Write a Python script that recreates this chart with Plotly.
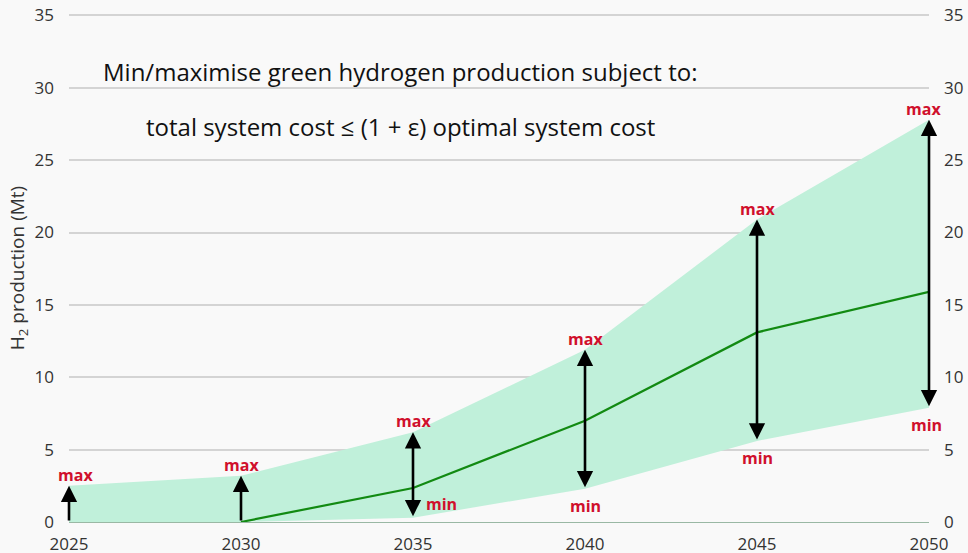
import plotly.graph_objects as go

years = [2025, 2030, 2035, 2040, 2045, 2050]
h2_max = [2.5, 3.2, 6.2, 11.9, 20.9, 27.8]
h2_min = [0.0, 0.0, 0.3, 2.3, 5.6, 7.9]
h2_opt = [None, 0.0, 2.35, 7.0, 13.1, 15.9]
y_ticks = [0, 5, 10, 15, 20, 25, 30, 35]
x_ticks = [2025, 2030, 2035, 2040, 2045, 2050]
title_line1 = "Min/maximise green hydrogen production subject to:"
title_line2 = "total system cost ≤ (1 + ε) optimal system cost"

FONT = "Open Sans"
RED = "#d0102c"
BAND = "#c0f0da"
BG = "#f9f9f9"

fig = go.Figure()
fig.add_trace(go.Scatter(x=years, y=h2_min, mode="lines", line=dict(width=0, color=BAND),
                         showlegend=False, hoverinfo="skip"))
fig.add_trace(go.Scatter(x=years, y=h2_max, mode="lines", line=dict(width=0, color=BAND),
                         fill="tonexty", fillcolor=BAND, showlegend=False, hoverinfo="skip"))
fig.add_trace(go.Scatter(x=years, y=h2_opt, mode="lines", line=dict(width=2.2, color="#128a12"),
                         showlegend=False, connectgaps=False))
fig.add_trace(go.Scatter(x=years, y=h2_max, mode="lines", line=dict(width=0), opacity=0,
                         yaxis="y2", showlegend=False, hoverinfo="skip"))

edge_shift = {2025: 6, 2050: -6}
for yr, lo, hi in zip(years, h2_min, h2_max):
    both = lo > 0
    fig.add_annotation(x=yr, y=hi, ax=yr, ay=lo, xref="x", yref="y", axref="x", ayref="y",
                       showarrow=True, arrowhead=2, startarrowhead=2, arrowsize=1.25, startarrowsize=1.25,
                       arrowwidth=2.6, arrowcolor="black",
                       arrowside="end+start" if both else "end", text="")
    fig.add_annotation(x=yr, y=hi, text="<b>max</b>", showarrow=False, yshift=11,
                       xshift=edge_shift.get(yr, 0),
                       font=dict(family=FONT, size=16, color=RED))
    if both:
        if yr == 2035:
            fig.add_annotation(x=yr, y=lo, text="<b>min</b>", showarrow=False, xshift=28, yshift=14,
                               font=dict(family=FONT, size=16, color=RED))
        else:
            fig.add_annotation(x=yr, y=lo, text="<b>min</b>", showarrow=False, yshift=-17,
                               xshift=edge_shift.get(yr, 0) // 2,
                               font=dict(family=FONT, size=16, color=RED))

fig.add_annotation(x=0.385, y=0.886, xref="paper", yref="paper", text=title_line1, showarrow=False,
                   xanchor="center", yanchor="middle",
                   font=dict(family=FONT, size=24, color="#111"))
fig.add_annotation(x=0.385, y=0.778, xref="paper", yref="paper", text=title_line2, showarrow=False,
                   xanchor="center", yanchor="middle",
                   font=dict(family=FONT, size=24, color="#111"))

axis_font = dict(family=FONT, size=17, color="#333")
fig.update_layout(
    width=968, height=553,
    margin=dict(l=69, r=39, t=14, b=31, autoexpand=False),
    paper_bgcolor=BG, plot_bgcolor=BG,
    font=dict(family=FONT),
    xaxis=dict(range=[2025, 2050], tickvals=x_ticks, showgrid=False, zeroline=False, automargin=False,
               tickfont=axis_font, showline=False, ticks="", ticklabelstandoff=10,
               ticklabeloverflow="allow"),
    yaxis=dict(range=[0, 35.1], tickvals=y_ticks, showgrid=True, gridcolor="#d4d4d4", gridwidth=1.5,
               zeroline=True, zerolinecolor="#9ab8a4", zerolinewidth=1.2,
               tickfont=axis_font, ticks="", ticklabelstandoff=14, automargin=False,
               ticklabeloverflow="allow",
               title=dict(text="H<sub>2</sub> production (Mt)", font=dict(family=FONT, size=19, color="#333"),
                          standoff=4)),
    yaxis2=dict(range=[0, 35.1], tickvals=y_ticks, overlaying="y", side="right", showgrid=False,
                zeroline=False, tickfont=axis_font, ticks="", ticklabelstandoff=14, automargin=False,
                ticklabeloverflow="allow"),
)

fig.write_html("out.html", config={"displayModeBar": False},
               post_script="document.body.style.margin='0';document.body.style.background='%s';"
                           "document.documentElement.style.background='%s';" % (BG, BG))
